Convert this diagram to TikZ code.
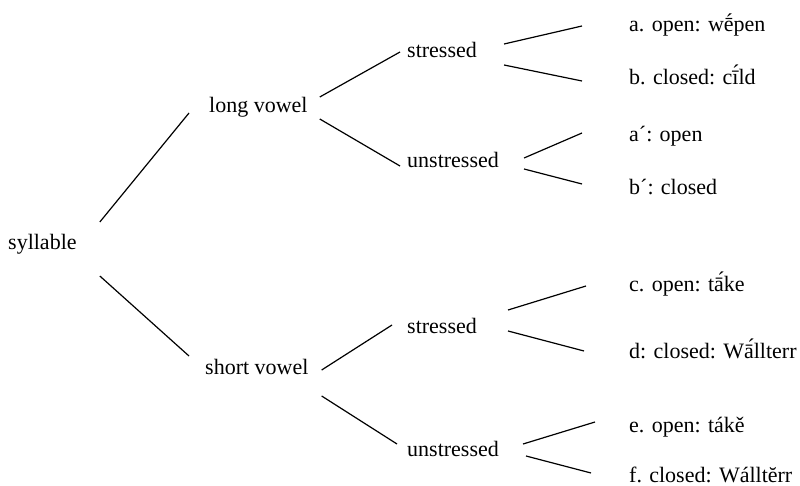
\documentclass[tikz,border=0pt]{standalone}
\usepackage{fontspec}
\setmainfont{Liberation Serif}
\usetikzlibrary{calc}
\begin{document}
\begin{tikzpicture}[x=1pt,y=-1pt,
  lbl/.style={inner sep=0pt,anchor=base west,font=\fontsize{22}{26}\selectfont},
  edge/.style={line width=1.2pt}]
\useasboundingbox (0,0) rectangle (800,486);
\node[lbl] (syl) at (8,250) {syllable};
\node[lbl] (lv) at (209,113) {long vowel};
\node[lbl] (sv) at (205,374) {short vowel};
\node[lbl] (st1) at (407,58) {stressed};
\node[lbl] (us1) at (407,168) {unstressed};
\node[lbl] (st2) at (407,333) {stressed};
\node[lbl] (us2) at (407,456) {unstressed};
\node[lbl] (a) at (629,32) {a. open: wḗpen};
\node[lbl] (b) at (629,85) {b. closed: cī́ld};
\node[lbl] (a2) at (629,142) {a´: open};
\node[lbl] (b2) at (629,195) {b´: closed};
\node[lbl] (c) at (629,291) {c. open: tā́ke};
\node[lbl] (d) at (629,358) {d: closed: Wā́llterr};
\node[lbl] (e) at (629,432) {e. open: tákě};
\node[lbl] (f) at (629,482) {f. closed: Wálltĕrr};
% connectors
\draw[edge] ($(syl.base east)+(23,-28)$) -- ($(lv.base west)+(-20,0)$);
\draw[edge] ($(syl.base east)+(23,26)$) -- ($(sv.base west)+(-16,-18)$);
\draw[edge] ($(lv.base east)+(12,-16)$) -- ($(st1.base west)+(-7,-6)$);
\draw[edge] ($(lv.base east)+(12,6)$) -- ($(us1.base west)+(-7,-2)$);
\draw[edge] ($(sv.base east)+(13,-4)$) -- ($(st2.base west)+(-15,-8)$);
\draw[edge] ($(sv.base east)+(13,22)$) -- ($(us2.base west)+(-10,-12)$);
\draw[edge] ($(st1.base east)+(27,-14)$) -- ($(a.base west)+(-47,-6)$);
\draw[edge] ($(st1.base east)+(27,7)$) -- ($(b.base west)+(-47,-4)$);
\draw[edge] ($(us1.base east)+(25,-10)$) -- ($(a2.base west)+(-47,-9)$);
\draw[edge] ($(us1.base east)+(25,1)$) -- ($(b2.base west)+(-47,-11)$);
\draw[edge] ($(st2.base east)+(31,-23)$) -- ($(c.base west)+(-43,-5)$);
\draw[edge] ($(st2.base east)+(31,-2)$) -- ($(d.base west)+(-45,-7)$);
\draw[edge] ($(us2.base east)+(24,-12)$) -- ($(e.base west)+(-34,-10)$);
\draw[edge] ($(us2.base east)+(27,0)$) -- ($(f.base west)+(-38,-9)$);
\end{tikzpicture}
\end{document}
